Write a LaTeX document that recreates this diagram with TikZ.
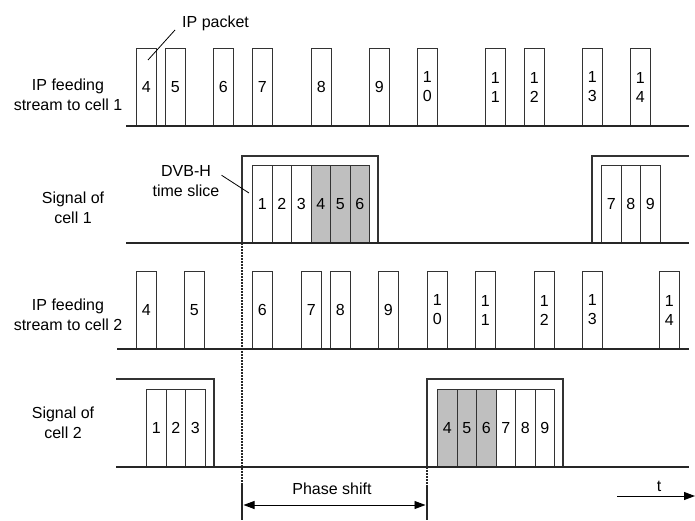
\documentclass[tikz,border=0pt]{standalone}
\usepackage{fontspec}
\setmainfont{Liberation Sans}
\usetikzlibrary{arrows.meta}
\usetikzlibrary{calc}

\tikzset{
  txt/.style={font=\fontsize{16}{20}\selectfont, inner sep=0pt, align=center},
  rowlabel/.style={txt},
  pkt/.style={draw=black!80, line width=1pt, minimum width=19.5pt, minimum height=77pt,
              inner sep=0pt, anchor=south west, align=center, font=\fontsize{16}{19}\selectfont},
  pktgray/.style={pkt, fill=black!25},
  axisline/.style={draw=black!85, line width=1.4pt},
  frame/.style={draw=black!80, line width=1.2pt},
  leader/.style={draw=black, line width=0.8pt},
  dashline/.style={draw=black!85, line width=1.5pt, dash pattern=on 2pt off 1pt},
  bar/.style={draw=black!85, line width=2.8pt},
  timearrow/.style={draw=black, line width=1pt, -{Triangle[length=11pt, width=8pt]}}
}

\begin{document}
\begin{tikzpicture}[x=1pt, y=-1pt]
  \useasboundingbox (0,0) rectangle (695,521);

  \node[rowlabel] (lab1) at (68,95) {IP feeding\\stream to cell 1};
  \node[rowlabel] (lab2) at (73,208) {Signal of\\cell 1};
  \node[rowlabel] (lab3) at (68,315) {IP feeding\\stream to cell 2};
  \node[rowlabel] (lab4) at (63,423) {Signal of\\cell 2};

  \coordinate (ax1w) at (126,126); \coordinate (ax1e) at (689,126);
  \coordinate (ax2w) at (126,243); \coordinate (ax2e) at (689,243);
  \coordinate (ax3w) at (117,349); \coordinate (ax3e) at (689,349);
  \coordinate (ax4w) at (116,467); \coordinate (ax4e) at (689,467);

  \foreach \x/\t [count=\i] in {136/4, 165/5, 213/6, 252/7, 311/8, 369/9, 417/{1\\0},
                                485/{1\\1}, 524/{1\\2}, 582/{1\\3}, 630/{1\\4}}{
    \node[pkt] (a\i) at (\x,126) {\t};}
  \draw[axisline] (ax1w) -- (ax1e);

  \draw[frame] (242,243) |- (378,156) -- (378,243);
  \draw[frame] (592,243) |- (689,156);
  \foreach \t [count=\i] in {1,2,3}{
    \node[pkt] (b\i) at (252+19.5*\i-19.5,243) {\t};}
  \foreach \t [count=\i] in {4,5,6}{
    \node[pktgray] (b\t) at (310.5+19.5*\i-19.5,243) {\t};}
  \foreach \t [count=\i] in {7,8,9}{
    \node[pkt] (b\t) at (601+19.5*\i-19.5,243) {\t};}
  \draw[axisline] (ax2w) -- (ax2e);

  \foreach \x/\t [count=\i] in {136/4, 184/5, 252/6, 301/7, 330/8, 378/9, 427/{1\\0},
                                475/{1\\1}, 534/{1\\2}, 582/{1\\3}, 659/{1\\4}}{
    \node[pkt] (c\i) at (\x,349) {\t};}
  \draw[axisline] (ax3w) -- (ax3e);

  \draw[frame] (116,379) -| (214,467);
  \draw[frame] (427,467) |- (563,379) -- (563,467);
  \foreach \t [count=\i] in {1,2,3}{
    \node[pkt] (d\i) at (146+19.5*\i-19.5,467) {\t};}
  \foreach \t [count=\i] in {4,5,6}{
    \node[pktgray] (d\t) at (437+19.5*\i-19.5,467) {\t};}
  \foreach \t [count=\i] in {7,8,9}{
    \node[pkt] (d\t) at (495.5+19.5*\i-19.5,467) {\t};}
  \draw[axisline] (ax4w) -- (ax4e);

  \node[txt, anchor=south west] (ippkt) at (182,31) {IP packet};
  \coordinate (ippin) at (148,60);
  \draw[leader] (ippin) -- ($(ippkt.south west)+(-7,-1)$);

  \node[txt] (slice) at (186,181) {DVB-H\\time slice};
  \coordinate (slicepin) at (249,193);
  \draw[leader] ($(slice.north east)+(2,10)$) -- (slicepin);

  \coordinate (ps1top) at (242,243); \coordinate (ps1mid) at (242,485); \coordinate (ps1bot) at (242,520);
  \coordinate (ps2top) at (427,467); \coordinate (ps2mid) at (427,485); \coordinate (ps2bot) at (427,520);
  \draw[dashline] (ps1top) -- (ps1mid);
  \draw[dashline] (ps2top) -- (ps2mid);
  \draw[bar] (ps1mid) -- (ps1bot);
  \draw[bar] (ps2mid) -- (ps2bot);
  \coordinate (psl) at (243.5,505); \coordinate (psr) at (425.5,505);
  \draw[line width=0.9pt, {Triangle[length=11pt, width=8pt]}-{Triangle[length=11pt, width=8pt]}] (psl) -- (psr);
  \node[txt] (pslabel) at (332,489) {Phase shift};

  \coordinate (tstart) at (617,496); \coordinate (tend) at (695,496);
  \draw[timearrow] (tstart) -- (tend);
  \node[txt] (tlabel) at (659,486) {t};
\end{tikzpicture}
\end{document}
